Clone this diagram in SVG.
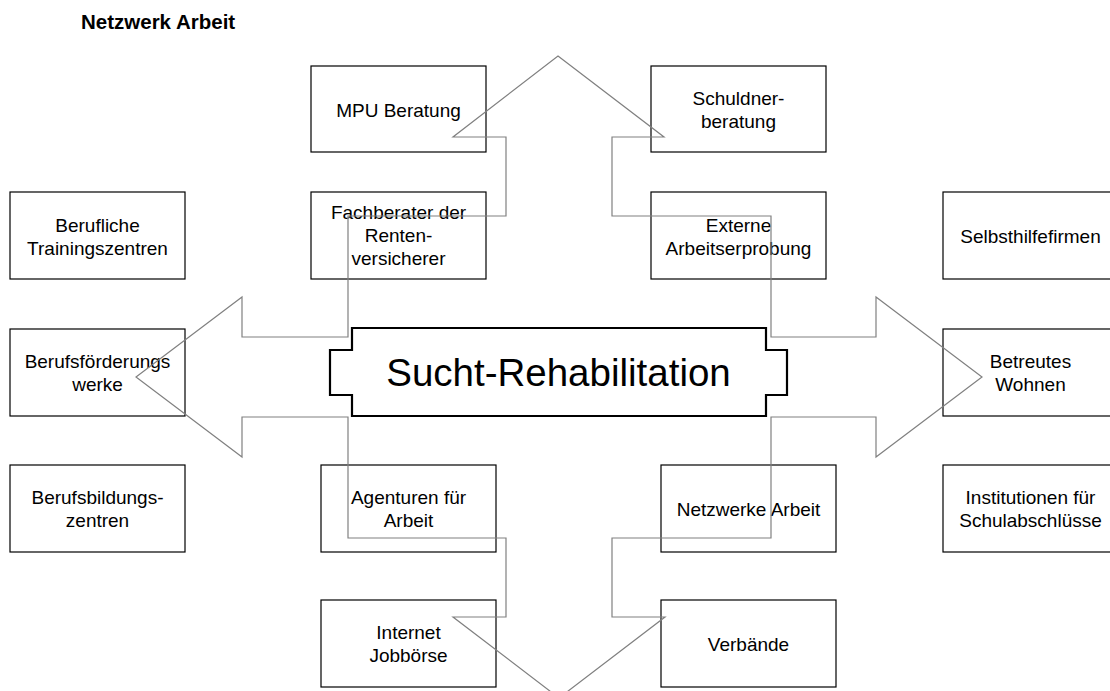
<svg xmlns="http://www.w3.org/2000/svg" width="1110" height="691" viewBox="0 0 1110 691">
<style>
  .box { fill: #ffffff; stroke: #000000; stroke-width: 1.2; }
  .t { font-family: "Liberation Sans", Arial, sans-serif; font-size: 19px; fill: #000000; text-anchor: middle; }
  .title { font-family: "Liberation Sans", Arial, sans-serif; font-size: 20.5px; font-weight: bold; fill: #000000; }
  .arrow { fill: none; stroke: #808080; stroke-width: 1.2; stroke-linejoin: miter; }
  .center { fill: #ffffff; stroke: #000000; stroke-width: 2.2; }
  .ct { font-family: "Liberation Sans", Arial, sans-serif; font-size: 38.5px; fill: #000000; text-anchor: middle; }
</style>
<rect width="1110" height="691" fill="#ffffff"/>
<text class="title" x="81" y="29">Netzwerk Arbeit</text>

<g id="n-mpu"><rect class="box" x="311" y="66" width="175" height="86"/><text class="t" x="398.5" y="117">MPU Beratung</text></g>
<g id="n-schuldner"><rect class="box" x="651" y="66" width="175" height="86"/><text class="t" x="738.5" y="105">Schuldner-</text><text class="t" x="738.5" y="128">beratung</text></g>

<g id="n-training"><rect class="box" x="10" y="192" width="175" height="87"/><text class="t" x="97.5" y="232">Berufliche</text><text class="t" x="97.5" y="255">Trainingszentren</text></g>
<g id="n-fachberater"><rect class="box" x="311" y="192" width="175" height="87"/><text class="t" x="398.5" y="219">Fachberater der</text><text class="t" x="398.5" y="242">Renten-</text><text class="t" x="398.5" y="265">versicherer</text></g>
<g id="n-externe"><rect class="box" x="651" y="192" width="175" height="87"/><text class="t" x="738.5" y="232">Externe</text><text class="t" x="738.5" y="255">Arbeitserprobung</text></g>
<g id="n-selbsthilfe"><rect class="box" x="943" y="192" width="175" height="87"/><text class="t" x="1030.5" y="243">Selbsthilfefirmen</text></g>

<g id="n-bfw"><rect class="box" x="10" y="329" width="175" height="87"/><text class="t" x="97.5" y="368">Berufsförderungs</text><text class="t" x="97.5" y="391">werke</text></g>
<g id="n-wohnen"><rect class="box" x="943" y="329" width="175" height="87"/><text class="t" x="1030.5" y="368">Betreutes</text><text class="t" x="1030.5" y="391">Wohnen</text></g>

<g id="n-bbz"><rect class="box" x="10" y="465" width="175" height="87"/><text class="t" x="97.5" y="504">Berufsbildungs-</text><text class="t" x="97.5" y="527">zentren</text></g>
<g id="n-agenturen"><rect class="box" x="321" y="465" width="175" height="87"/><text class="t" x="408.5" y="504">Agenturen für</text><text class="t" x="408.5" y="527">Arbeit</text></g>
<g id="n-netzwerke"><rect class="box" x="661" y="465" width="175" height="87"/><text class="t" x="748.5" y="516">Netzwerke Arbeit</text></g>
<g id="n-institutionen"><rect class="box" x="943" y="465" width="175" height="87"/><text class="t" x="1030.5" y="504">Institutionen für</text><text class="t" x="1030.5" y="527">Schulabschlüsse</text></g>

<g id="n-internet"><rect class="box" x="321" y="600" width="175" height="87"/><text class="t" x="408.5" y="639">Internet</text><text class="t" x="408.5" y="662">Jobbörse</text></g>
<g id="n-verbaende"><rect class="box" x="661" y="600" width="175" height="87"/><text class="t" x="748.5" y="651">Verbände</text></g>

<g id="connectors">
  <polygon class="arrow" points="558,56 664,137 612,137 612,216 771,216 771,337 876,337 876,297 982,377 876,457 876,417 771,417 771,538 612,538 612,617 665,617 559,698 453,617 506,617 506,538 348,538 348,417 242,417 242,457 136,377 242,297 242,337 348,337 348,216 506,216 506,137 453,137"/>
</g>

<g id="n-center">
  <polygon class="center" points="352,328 766,328 766,350 787,350 787,395 766,395 766,416 352,416 352,395 330,395 330,350 352,350"/>
  <text class="ct" x="558.5" y="386">Sucht-Rehabilitation</text>
</g>
</svg>
